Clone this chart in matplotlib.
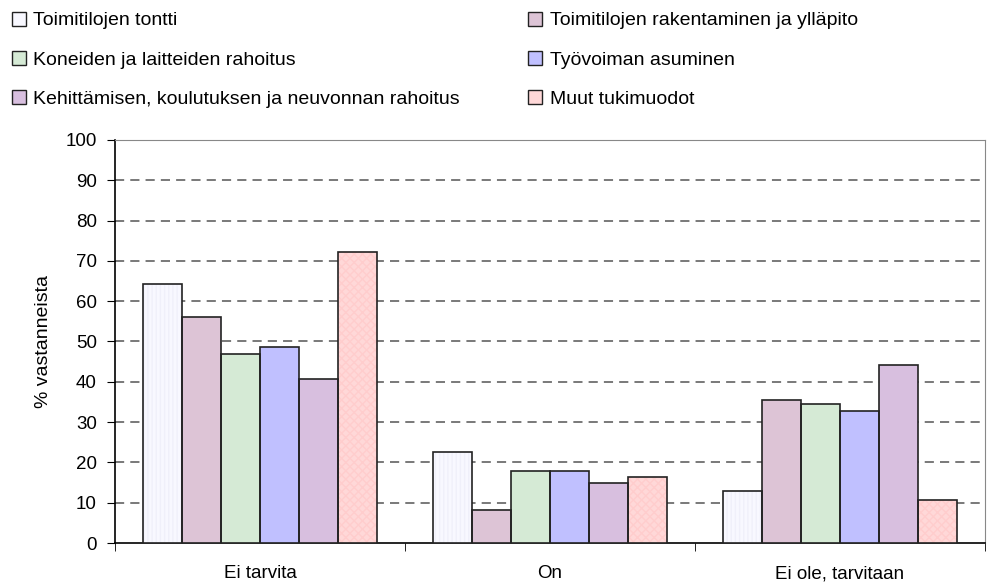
import numpy as np
import matplotlib.pyplot as plt
from matplotlib.patches import Patch

plt.rcParams['font.family'] = ['Liberation Sans', 'DejaVu Sans']

categories = ["Ei tarvita", "On", "Ei ole, tarvitaan"]
series = ["Toimitilojen tontti",
          "Toimitilojen rakentaminen ja ylläpito",
          "Koneiden ja laitteiden rahoitus",
          "Työvoiman asuminen",
          "Kehittämisen, koulutuksen ja neuvonnan rahoitus",
          "Muut tukimuodot"]
values = [
    [64.3, 22.5, 12.9],
    [56.1, 8.1, 35.5],
    [46.9, 17.9, 34.6],
    [48.7, 17.9, 32.7],
    [40.6, 14.8, 44.2],
    [72.3, 16.4, 10.7],
]
colors = ["#f8f8ff", "#ddc4d6", "#d5ead5", "#c0c0ff", "#d8bfdf", "#ffd8d8"]
# faint texture seen on some bars
hatches = ["||||", None, None, None, None, "xxxx"]
hatch_cols = ["#f0f0fa", None, None, None, None, "#ffcdcd"]
yticks = list(range(0, 101, 10))

fig = plt.figure(figsize=(9.89, 5.83), dpi=100)
ax = fig.add_axes([0.1163, 0.0686, 0.8797, 0.6913])

x = np.arange(len(categories))
w = 0.135
for j, vals in enumerate(values):
    pos = x + (j - 2.5) * w
    if hatches[j]:
        ax.bar(pos, vals, w, color=colors[j], hatch=hatches[j],
               edgecolor=hatch_cols[j], linewidth=0, zorder=3)
    else:
        ax.bar(pos, vals, w, color=colors[j], linewidth=0, zorder=3)
    ax.bar(pos, vals, w, fill=False, edgecolor="#222222", linewidth=1.2, zorder=4)

ax.set_xlim(-0.5, 2.5)
ax.set_ylim(0, 100)
ax.set_yticks(yticks)
ax.tick_params(axis="y", labelsize=13.5, length=6, pad=7, direction="out")
ax.set_xticks(x)
ax.set_xticklabels(categories, fontsize=13.5)
ax.tick_params(axis="x", length=0, pad=16)
# category separators on the x axis
ax.set_xticks([-0.5, 0.5, 1.5, 2.5], minor=True)
ax.tick_params(axis="x", which="minor", length=6, direction="out")

for v in yticks[1:-1]:
    ax.axhline(v, color="#555555", linestyle=(0, (6, 4)), linewidth=1.1, zorder=1)
ax.spines["top"].set_color("#888888")
ax.spines["right"].set_color("#888888")
ax.spines["left"].set_linewidth(1.2)
ax.spines["bottom"].set_linewidth(1.2)
ax.set_ylabel("% vastanneista", fontsize=14, labelpad=10)

handles = [Patch(facecolor=c, edgecolor="#222222", linewidth=1) for c in colors]
order = [0, 2, 4, 1, 3, 5]
fig.legend([handles[i] for i in order], [series[i] for i in order],
           loc="upper left", bbox_to_anchor=(0.0, 1.0), ncol=2, frameon=False,
           fontsize=14, handlelength=0.72, handleheight=0.72, handletextpad=0.4,
           labelspacing=1.1, columnspacing=3.5, borderaxespad=0.2)

fig.savefig("out.png", dpi=100)
